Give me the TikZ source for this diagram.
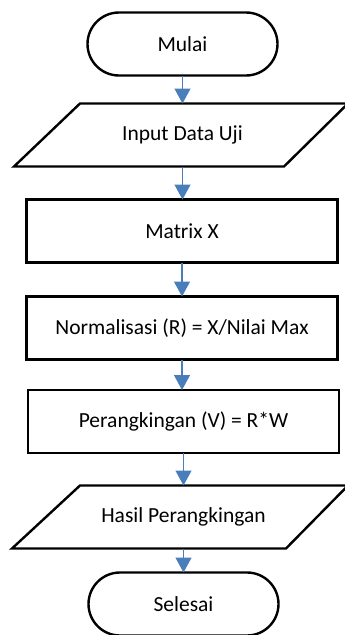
\documentclass[tikz,border=0pt]{standalone}
\usepackage{fontspec}
\setmainfont{Carlito}
\usetikzlibrary{arrows.meta}
\definecolor{arrowblue}{HTML}{4A7EBB}
\begin{document}
\begin{tikzpicture}[x=1pt,y=-1pt,
  every node/.style={font=\fontsize{21.5}{25}\selectfont, inner sep=0pt, outer sep=0pt},
  outline/.style={draw=black, line width=2.4pt, fill=white, line join=miter},
  term/.style={outline, rectangle, rounded corners=31.5pt, minimum width=190pt, minimum height=63pt},
  procbox/.style={outline, rectangle, minimum width=311pt, minimum height=63pt},
  iotext/.style={rectangle, minimum width=200pt, minimum height=63pt},
  flow/.style={draw=arrowblue, line width=1.3pt, -{Triangle[length=15pt,width=16pt]}}
]
\useasboundingbox (0,0) rectangle (345,635);
\node[term] (mulai) at (182.5,44) {Mulai};
\draw[outline] (80,103.5) -- (348,103.5) -- (284,166.5) -- (14,166.5) -- cycle;
\node[iotext] (input) at (182.5,135) {Input Data Uji};
\node[procbox] (matrix) at (182,231) {Matrix X};
\node[procbox] (norm) at (182,328) {Normalisasi (R) = X/Nilai Max};
\node[procbox] (rank) at (183.5,421.5) {Perangkingan (V) = R*W};
\draw[outline] (80,485.5) -- (348,485.5) -- (286,548.5) -- (12,548.5) -- cycle;
\node[iotext] (hasil) at (183.5,517) {Hasil Perangkingan};
\node[term] (selesai) at (183.5,604) {Selesai};
\draw[flow] (mulai.south) -- (mulai.south |- input.north);
\draw[flow] (input.south) -- (input.south |- matrix.north);
\draw[flow] (matrix.south) -- (matrix.south |- norm.north);
\draw[flow] (norm.south) -- (norm.south |- rank.north);
\draw[flow] (rank.south) -- (rank.south |- hasil.north);
\draw[flow] (hasil.south) -- (hasil.south |- selesai.north);
\end{tikzpicture}
\end{document}
